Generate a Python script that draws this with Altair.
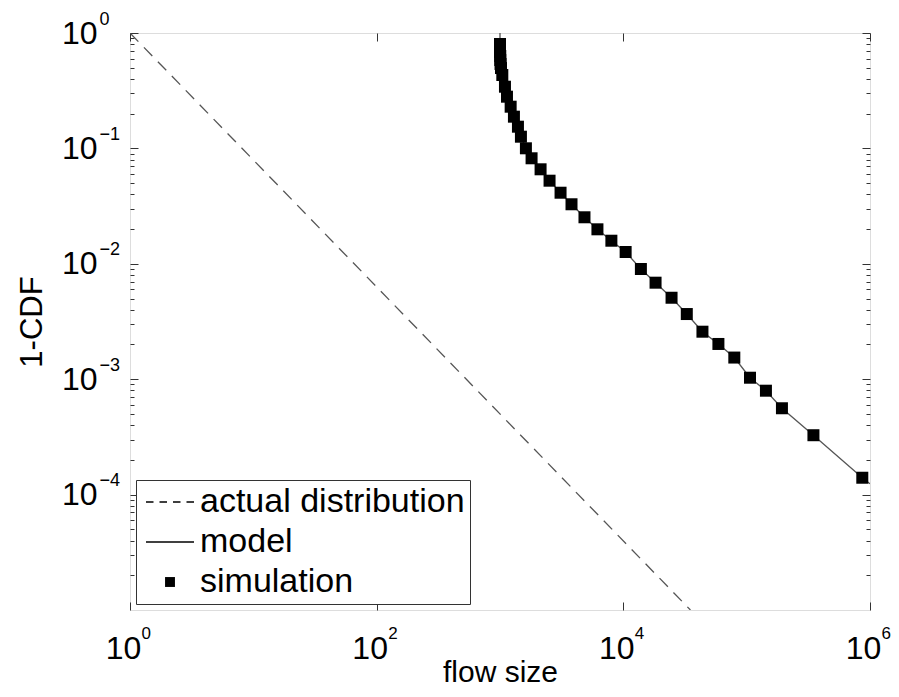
import altair as alt
import pandas as pd

# ---------------- data ----------------
actual_x = [1, 35000]
actual_y = [1.0, 1e-5]

model_x = [1000, 1000, 1000, 1000, 1005, 1005, 1010, 1019, 1044, 1097, 1139, 1220, 1297,
           1398, 1478, 1622, 1803, 2133, 2522, 3097, 3800, 4841, 6166, 8000, 10440,
           13880, 18250, 24600, 32700, 43800, 59000, 79400, 106400, 143300, 193200,
           347800, 866000, 1000000]
model_y = [1.0, 0.803, 0.741, 0.684, 0.632, 0.583, 0.539, 0.497, 0.4325, 0.3424, 0.2806,
           0.2298, 0.1883, 0.1542, 0.1263, 0.1002, 0.0821, 0.0659, 0.0525, 0.0413, 0.0328,
           0.0253, 0.0199, 0.01585, 0.01265, 0.00901, 0.00686, 0.00508, 0.00367, 0.00258,
           0.00202, 0.00154, 0.00103, 0.000795, 0.00056, 0.000327, 0.00014, 0.000124]

sim_x = [1000, 1000, 1000, 1005, 1005, 1010, 1019, 1044, 1097, 1139, 1220, 1297, 1398,
         1478, 1622, 1803, 2133, 2522, 3097, 3800, 4841, 6166, 8000, 10440, 13880, 18250,
         24600, 32700, 43800, 59000, 79400, 106400, 143300, 193200, 347800, 866000]
sim_y = [0.803, 0.741, 0.684, 0.632, 0.583, 0.539, 0.497, 0.4325, 0.3424, 0.2806, 0.2298,
         0.1883, 0.1542, 0.1263, 0.1002, 0.0821, 0.0659, 0.0525, 0.0413, 0.0328, 0.0253,
         0.0199, 0.01585, 0.01265, 0.00901, 0.00686, 0.00508, 0.00367, 0.00258, 0.00202,
         0.00154, 0.00103, 0.000795, 0.00056, 0.000327, 0.00014]

legend_labels = ["actual distribution", "model", "simulation"]
# legend glyphs drawn as filled paths: dashed bar, solid bar, square
legend_shapes = [
    "M-1.6,-0.045H-1.1V0.045H-1.6Z M-0.7,-0.045H-0.2V0.045H-0.7Z "
    "M0.2,-0.045H0.7V0.045H0.2Z M1.1,-0.045H1.6V0.045H1.1Z",
    "M-1.6,-0.045H1.6V0.045H-1.6Z",
    "M-0.33,-0.33H0.33V0.33H-0.33Z",
]

x_major = [1, 100, 10000, 1000000]
y_major = [1, 0.1, 0.01, 0.001, 0.0001]
y_minor = [m * 10.0 ** e for e in range(-5, 0) for m in range(2, 10)]

x_title = "flow size"
y_title = "1-CDF"

# ---------------- layout ----------------
W, H = 740, 577
FONT = "Liberation Sans"

actual_df = pd.DataFrame({"x": actual_x, "y": actual_y})
model_df = pd.DataFrame({"x": model_x, "y": model_y})
sim_df = pd.DataFrame({"x": sim_x, "y": sim_y, "series": ["simulation"] * len(sim_x)})

xscale = alt.Scale(type="log", domain=[1, 1e6], nice=False)
yscale = alt.Scale(type="log", domain=[1e-5, 1], nice=False)

EXP = "format(round(log(datum.value)/LN10), 'd')"

common = dict(grid=False, domain=False, labelFlush=False, labelOverlap=False,
              labelColor="black", labelFont=FONT)

# x axes
ax_x_main = alt.Axis(values=x_major, labelExpr="'10'", ticks=False, labelFontSize=32,
                     labelOffset=-7, labelPadding=23, title=x_title, titleFont=FONT,
                     titleFontSize=30, titleFontWeight="normal", titleColor="black",
                     titlePadding=-7, orient="bottom", **common)
ax_x_exp = alt.Axis(values=x_major, labelExpr=EXP, ticks=False, labelFontSize=17,
                    labelAlign="left", labelOffset=11, labelPadding=15, title=None,
                    orient="bottom", **common)
ax_x_tick_b = alt.Axis(values=x_major, labels=False, tickSize=8, tickColor="#333",
                       orient="top", offset=-H, title=None, grid=False, domain=False)
ax_x_tick_t = alt.Axis(values=x_major, labels=False, tickSize=8, tickColor="#333",
                       orient="bottom", offset=-H, title=None, grid=False, domain=False)

# y axes
ax_y_main = alt.Axis(values=y_major, labelExpr="'10'", ticks=False, labelFontSize=32,
                     labelPadding=33, title=y_title, titleFont=FONT, titleFontSize=31,
                     titleFontWeight="normal", titleColor="black", titlePadding=13,
                     orient="left", **common)
ax_y_exp = alt.Axis(values=y_major, labelExpr=EXP, ticks=False, labelFontSize=18,
                    labelAlign="left", labelPadding=31, labelOffset=-14, title=None,
                    orient="left", **common)
ax_y_tick_l = alt.Axis(values=y_major, labels=False, tickSize=8, tickColor="#333",
                       orient="right", offset=-W, title=None, grid=False, domain=False)
ax_y_tick_r = alt.Axis(values=y_major, labels=False, tickSize=8, tickColor="#333",
                       orient="left", offset=-W, title=None, grid=False, domain=False)
ax_y_minor_l = alt.Axis(values=y_minor, labels=False, tickSize=4, tickColor="#333",
                        orient="right", offset=-W, title=None, grid=False, domain=False)
ax_y_minor_r = alt.Axis(values=y_minor, labels=False, tickSize=4, tickColor="#333",
                        orient="left", offset=-W, title=None, grid=False, domain=False)

actual = alt.Chart(actual_df).mark_line(
    color="#555", strokeDash=[12, 8], strokeWidth=1.3, clip=True
).encode(
    x=alt.X("x:Q", scale=xscale, axis=ax_x_main),
    y=alt.Y("y:Q", scale=yscale, axis=ax_y_main),
)

model = alt.Chart(model_df).mark_line(color="#555", strokeWidth=1.3, clip=True).encode(
    x=alt.X("x:Q", scale=xscale, axis=ax_x_exp),
    y=alt.Y("y:Q", scale=yscale, axis=ax_y_exp),
)

sim = alt.Chart(sim_df).mark_point(
    filled=True, color="black", size=1322, opacity=1,
).encode(
    x=alt.X("x:Q", scale=xscale, axis=ax_x_tick_b),
    y=alt.Y("y:Q", scale=yscale, axis=ax_y_tick_l),
    shape=alt.Shape(
        "series:N",
        scale=alt.Scale(domain=legend_labels, range=legend_shapes),
        legend=alt.Legend(
            title=None, orient="bottom-left", offset=6, padding=5,
            symbolSize=900, symbolOffset=12, labelOffset=13, rowPadding=6,
            labelFontSize=34, labelFont=FONT, labelColor="black", labelLimit=600,
            strokeColor="#333", fillColor="white", symbolFillColor="#111",
            cornerRadius=0, symbolOpacity=1,
        ),
    ),
)

tick_top = alt.Chart(model_df).mark_line(opacity=0).encode(
    x=alt.X("x:Q", scale=xscale, axis=ax_x_tick_t),
    y=alt.Y("y:Q", scale=yscale, axis=ax_y_tick_r),
)
minor_l = alt.Chart(model_df).mark_line(opacity=0).encode(
    x=alt.X("x:Q", scale=xscale, axis=None),
    y=alt.Y("y:Q", scale=yscale, axis=ax_y_minor_l),
)
minor_r = alt.Chart(model_df).mark_line(opacity=0).encode(
    x=alt.X("x:Q", scale=xscale, axis=None),
    y=alt.Y("y:Q", scale=yscale, axis=ax_y_minor_r),
)

chart = (
    alt.layer(actual, model, sim, tick_top, minor_l, minor_r)
    .resolve_axis(x="independent", y="independent")
    .properties(
        width=W, height=H,
        autosize=alt.AutoSizeParams(type="none"),
        padding={"left": 122, "top": 25, "right": 21, "bottom": 79},
    )
    .configure_view(stroke="#404040", strokeWidth=1.5)
    .configure(background="white")
)

chart.save("out.html", embed_options={"renderer": "svg", "actions": False})
